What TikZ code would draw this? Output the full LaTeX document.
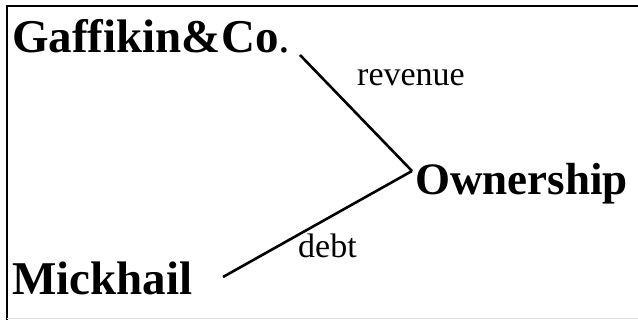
\documentclass[tikz,border=0pt]{standalone}
\usepackage{fontspec}
\setmainfont{Liberation Serif}
\begin{document}
\begin{tikzpicture}[x=1pt,y=1pt,
  big/.style={inner sep=0pt,anchor=base west,font=\fontsize{47}{50}\selectfont\bfseries},
  lab/.style={inner sep=0pt,anchor=base west,font=\fontsize{34}{36}\selectfont},
  link/.style={line width=2.6pt,black}]
\useasboundingbox (0,0) rectangle (638,320);
\draw[line width=2.4pt,line join=miter] (7,0) -- (7,314) -- (638,314);
\draw[black!12,line width=1pt] (7,1.5) -- (638,1.5);
\node[big] (gaff) at (12,267) {Gaffikin\&Co\textmd{.}};
\node[big,font=\fontsize{45}{48}\selectfont\bfseries] (own) at (415,125) {Ownership};
\node[big] (mick) at (12,25) {Mickhail};
\node[lab] (rev) at (357,234) {revenue};
\node[lab] (debt) at (298,62) {debt};
\coordinate (gend) at (300,265);
\coordinate (hub) at (412,149);
\coordinate (mend) at (223,43);
\draw[link] (gend) -- (hub);
\draw[link] (mend) -- (hub);
\end{tikzpicture}
\end{document}
